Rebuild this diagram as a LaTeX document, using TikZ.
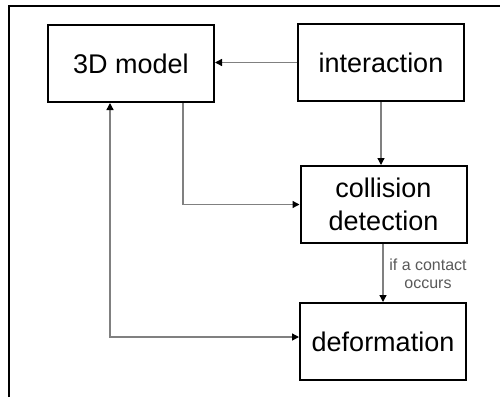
\documentclass[tikz,border=0pt]{standalone}
\usepackage{fontspec}
\setmainfont{Liberation Sans}
\usetikzlibrary{arrows.meta}
\begin{document}
\begin{tikzpicture}[x=1pt,y=-1pt,
  blk/.tip={Triangle[color=black,length=7pt,width=7pt]},
  box/.style={draw, line width=2pt, minimum width=166pt, minimum height=77pt,
    font=\fontsize{27}{33}\selectfont, align=center, inner sep=0pt},
  conn/.style={draw=black!50, line width=1.3pt, -blk},
  both/.style={draw=black!50, line width=1.3pt, blk-blk},
  lbl/.style={font=\fontsize{16}{18}\selectfont, text=black!65, align=center}]
\useasboundingbox (0,0) rectangle (500,397);
\draw[line width=2.5pt] (9,397) -- (9,6) -- (500,6);
\node[box] (model) at (131,63.5) {3D model};
\node[box] (inter) at (381,62.5) {interaction};
\node[box] (coll) at (383.5,204.5) {collision\\detection};
\node[box] (def) at (383,341.5) {deformation};
\coordinate (c1) at (183,204);
\coordinate (c2) at (110,337);
\draw[conn] (inter.west) -- (model.east |- inter.west);
\draw[conn] (inter.south) -- (inter.south |- coll.north);
\draw[conn] (model.south -| c1) |- (coll.west);
\draw[conn] (coll.south -| 383,0) -- (def.north -| 383,0);
\draw[both] (model.south -| c2) |- (def.west |- c2);
\node[lbl] (cond) at (428,274) {if a contact\\occurs};
\end{tikzpicture}
\end{document}
